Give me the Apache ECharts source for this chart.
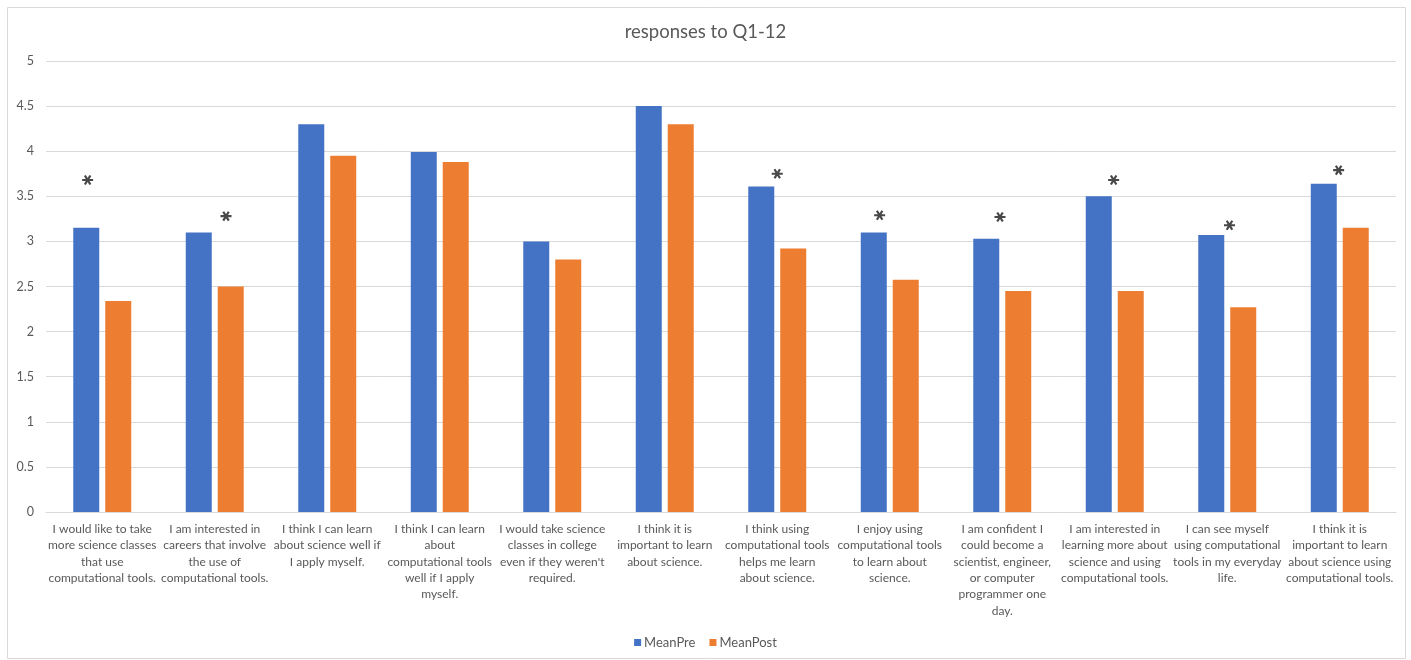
<!DOCTYPE html>
<html>
<head>
<meta charset="utf-8">
<script src="https://cdn.jsdelivr.net/npm/echarts@6/dist/echarts.min.js"></script>
<style>
html,body{margin:0;padding:0;background:#fff;}
#chart{width:1411px;height:660px;}
</style>
</head>
<body>
<div id="chart"></div>
<script>
// ---- data ----
var titleText = 'responses to Q1-12';
var seriesNames = ['MeanPre', 'MeanPost'];
var categories = [
  'I would like to take\nmore science classes\nthat use\ncomputational tools.',
  'I am interested in\ncareers that involve\nthe use of\ncomputational tools.',
  'I think I can learn\nabout science well if\nI apply myself.',
  'I think I can learn\nabout\ncomputational tools\nwell if I apply\nmyself.',
  'I would take science\nclasses in college\neven if they weren\'t\nrequired.',
  'I think it is\nimportant to learn\nabout science.',
  'I think using\ncomputational tools\nhelps me learn\nabout science.',
  'I enjoy using\ncomputational tools\nto learn about\nscience.',
  'I am confident I\ncould become a\nscientist, engineer,\nor computer\nprogrammer one\nday.',
  'I am interested in\nlearning more about\nscience and using\ncomputational tools.',
  'I can see myself\nusing computational\ntools in my everyday\nlife.',
  'I think it is\nimportant to learn\nabout science using\ncomputational tools.'
];
var meanPre  = [3.15, 3.10, 4.30, 3.99, 3.00, 4.50, 3.61, 3.10, 3.03, 3.50, 3.07, 3.64];
var meanPost = [2.34, 2.50, 3.95, 3.88, 2.80, 4.30, 2.92, 2.575, 2.45, 2.45, 2.27, 3.15];
// significance markers: position in category units (0..12) and height in value units
var starX = [0.37, 1.60, 6.50, 7.41, 8.48, 9.49, 10.52, 11.49];
var starY = [3.68, 3.28, 3.75, 3.29, 3.27, 3.68, 3.18, 3.79];
var yTicks = {min: 0, max: 5, interval: 0.5};

// ---- chart ----
var starPath = 'path://M5,1L5,-1L-5,-1L-5,1Z' +
  'M1.634,4.83L3.366,3.83L-1.634,-4.83L-3.366,-3.83Z' +
  'M-3.366,3.83L-1.634,4.83L3.366,-3.83L1.634,-4.83Z';

var chart = echarts.init(document.getElementById('chart'), null, {renderer: 'canvas'});
var txt = '#595959';
var font = 'Lato, "Open Sans", sans-serif';
var option = {
  backgroundColor: '#ffffff',
  animation: false,
  title: {
    text: titleText, left: 'center', top: 18,
    textStyle: {fontFamily: font, fontSize: 18.5, fontWeight: 'normal', color: txt}
  },
  legend: {
    data: seriesNames, bottom: 6, left: 'center',
    icon: 'rect', itemWidth: 7, itemHeight: 7, itemGap: 14,
    textStyle: {fontFamily: font, fontSize: 13, color: txt, padding: [0,0,0,-2]}
  },
  graphic: [{
    type: 'rect', shape: {x: 7.5, y: 7.5, width: 1398, height: 651},
    style: {fill: 'none', stroke: '#d9d9d9', lineWidth: 1}, silent: true, z: -1
  }],
  grid: {left: 46, right: 15, top: 61, bottom: 148, containLabel: false},
  xAxis: [{
    type: 'category', data: categories,
    axisLine: {lineStyle: {color: '#d9d9d9'}},
    axisTick: {show: false},
    axisLabel: {
      interval: 0, hideOverlap: false, color: txt, fontFamily: font, fontSize: 12,
      lineHeight: 16.3, margin: 9, align: 'center'
    }
  }, {
    type: 'value', min: 0, max: categories.length, show: false, position: 'bottom'
  }],
  yAxis: {
    type: 'value', min: yTicks.min, max: yTicks.max, interval: yTicks.interval,
    axisLine: {show: false}, axisTick: {show: false},
    axisLabel: {color: txt, fontFamily: font, fontSize: 12.5, margin: 12},
    splitLine: {lineStyle: {color: '#d9d9d9', width: 1}}
  },
  series: [{
    name: seriesNames[0], type: 'bar', data: meanPre, barWidth: 26, barGap: '23%',
    itemStyle: {color: '#4472C4'}
  }, {
    name: seriesNames[1], type: 'bar', data: meanPost, barWidth: 26, barGap: '23%',
    itemStyle: {color: '#ED7D31'}
  }, {
    type: 'scatter', xAxisIndex: 1, symbol: starPath, symbolSize: [11, 10],
    itemStyle: {color: '#1a1a1a'}, silent: true,
    data: starX.map(function (x, i) { return [x, starY[i]]; })
  }]
};
chart.setOption(option);
</script>
</body>
</html>
